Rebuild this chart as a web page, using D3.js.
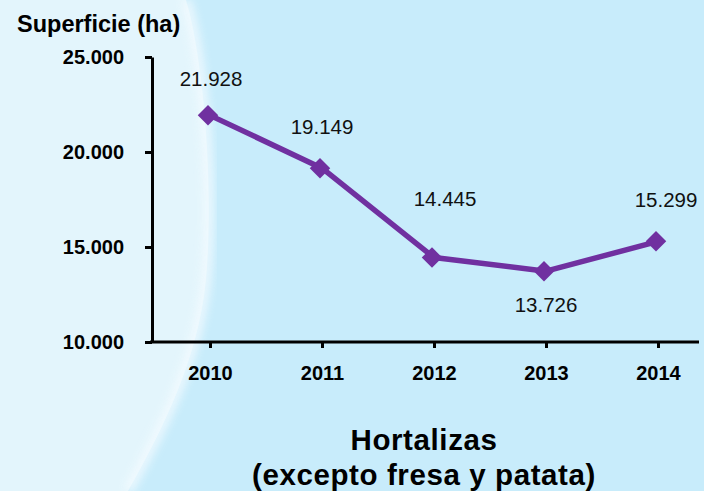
<!DOCTYPE html>
<html>
<head>
<meta charset="utf-8">
<script src="https://cdn.jsdelivr.net/npm/d3@7"></script>
<style>
  html, body { margin: 0; padding: 0; background: #c8ecfb; }
  svg { display: block; font-family: Arial, "Liberation Sans", sans-serif; }
</style>
</head>
<body>
<svg id="chart" width="704" height="491"></svg>
<script>
// data
const years = ["2010", "2011", "2012", "2013", "2014"];
const superficie = [21928, 19149, 14445, 13726, 15299];
const yTicks = [10000, 15000, 20000, 25000];
const yTitle = "Superficie (ha)";
const titleLines = ["Hortalizas", "(excepto fresa y patata)"];

// label placement (dx, dy from point), done by hand like in the original
const labelOffsets = [[1, -29], [0, -34], [11, -52], [0, 41], [8, -34]];

const W = 704, H = 491;
const PURPLE = "#7030a0";

const es = d3.formatLocale({ decimal: ",", thousands: ".", grouping: [3], currency: ["", " €"] });
const fmt = es.format(",d");

const svg = d3.select("#chart");

// background + the pale swoosh on the left
const defs = svg.append("defs");
defs.append("filter").attr("id", "blur")
  .append("feGaussianBlur").attr("stdDeviation", 4);

svg.append("rect").attr("width", W).attr("height", H).attr("fill", "#c8ecfb");
const swoosh = "M0,0 L186,0 C204,60 214,190 206,280 C198,360 162,430 128,491 L0,491 Z";
svg.append("path").attr("d", swoosh).attr("fill", "#e3f5fc");
svg.append("path")
  .attr("d", "M186,0 C204,60 214,190 206,280 C198,360 162,430 128,491")
  .attr("fill", "none")
  .attr("stroke", "#f4fbff")
  .attr("stroke-width", 10)
  .attr("opacity", 0.8)
  .attr("filter", "url(#blur)");

// scales
const x = d3.scalePoint().domain(years).range([210, 658]);
const y = d3.scaleLinear().domain([10000, 25000]).range([342, 57]);

// y axis
const yAxis = svg.append("g")
  .attr("transform", "translate(152,0)")
  .call(d3.axisLeft(y).tickValues(yTicks).tickFormat(fmt).tickSize(7).tickSizeOuter(0).tickPadding(21));
yAxis.select(".domain").attr("stroke", "#000").attr("stroke-width", 3);
yAxis.selectAll(".tick line").attr("stroke", "#000").attr("stroke-width", 3);
yAxis.selectAll(".tick text")
  .attr("fill", "#000")
  .style("font-size", "20px")
  .style("font-weight", "bold")
  .style("font-family", "Arial, 'Liberation Sans', sans-serif");

// x axis
const xAxis = svg.append("g")
  .attr("transform", `translate(0,${y(10000)})`)
  .call(d3.axisBottom(x).tickSize(6).tickSizeOuter(0).tickPadding(18));
xAxis.select(".domain").remove();
xAxis.append("line")
  .attr("x1", 150).attr("x2", 699)
  .attr("stroke", "#000").attr("stroke-width", 3);
xAxis.selectAll(".tick line").attr("stroke", "#000").attr("stroke-width", 3);
xAxis.selectAll(".tick text")
  .attr("fill", "#000")
  .style("font-size", "20px")
  .style("font-weight", "bold")
  .style("font-family", "Arial, 'Liberation Sans', sans-serif");

// y title
svg.append("text")
  .attr("x", 17).attr("y", 32)
  .style("font-size", "23.5px")
  .style("font-weight", "bold")
  .text(yTitle);

// line
const pts = years.map((yr, i) => ({ year: yr, value: superficie[i], off: labelOffsets[i] }));

svg.append("path")
  .datum(pts)
  .attr("fill", "none")
  .attr("stroke", PURPLE)
  .attr("stroke-width", 5.5)
  .attr("stroke-linejoin", "round")
  .attr("d", d3.line().x(d => x(d.year)).y(d => y(d.value)));

// diamond markers
svg.selectAll(".marker")
  .data(pts)
  .join("path")
  .attr("class", "marker")
  .attr("d", d3.symbol(d3.symbolSquare, 210))
  .attr("transform", d => `translate(${x(d.year) - 2},${y(d.value)})rotate(45)`)
  .attr("fill", PURPLE);

// value labels
svg.selectAll(".val")
  .data(pts)
  .join("text")
  .attr("class", "val")
  .attr("x", d => x(d.year) + d.off[0])
  .attr("y", d => y(d.value) + d.off[1])
  .attr("text-anchor", "middle")
  .style("font-size", "20.5px")
  .attr("fill", "#111")
  .text(d => fmt(d.value));

// chart title
svg.selectAll(".title")
  .data(titleLines)
  .join("text")
  .attr("class", "title")
  .attr("x", 424)
  .attr("y", (d, i) => 450 + i * 35)
  .attr("text-anchor", "middle")
  .style("font-size", "29.5px")
  .style("font-weight", "bold")
  .style("letter-spacing", "0.6px")
  .text(d => d);
</script>
</body>
</html>
